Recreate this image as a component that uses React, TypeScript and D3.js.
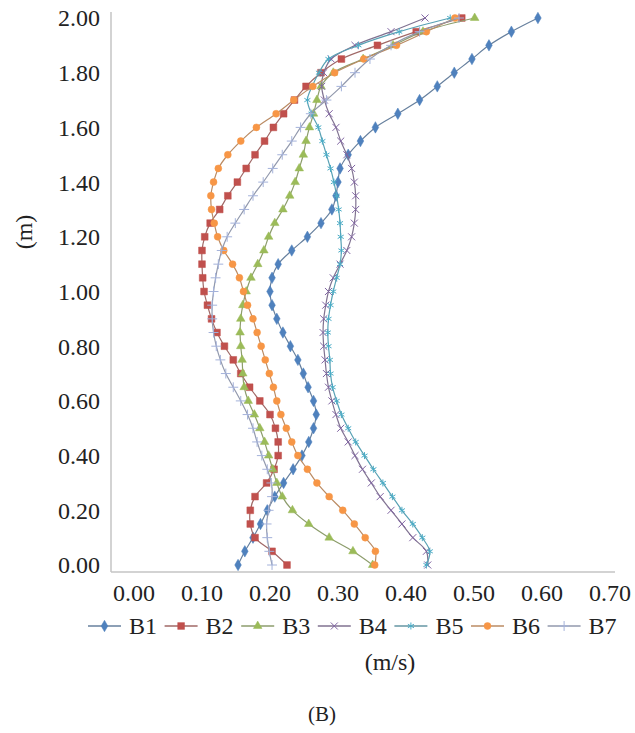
import React, { useEffect, useRef } from 'react';
import * as d3 from 'd3';

// depth (m) of each reading, shared by all series
const heights = [
  0.00, 0.05, 0.10, 0.15, 0.20, 0.25, 0.30, 0.35, 0.40, 0.45,
  0.50, 0.55, 0.60, 0.65, 0.70, 0.75, 0.80, 0.85, 0.90, 0.95,
  1.00, 1.05, 1.10, 1.15, 1.20, 1.25, 1.30, 1.35, 1.40, 1.45,
  1.50, 1.55, 1.60, 1.65, 1.70, 1.75, 1.80, 1.85, 1.90, 1.95, 2.00,
];

// velocity (m/s) per series
const b1 = [
  0.153, 0.163, 0.175, 0.186, 0.196, 0.207, 0.220, 0.234, 0.247, 0.257,
  0.264, 0.268, 0.264, 0.256, 0.249, 0.241, 0.230, 0.219, 0.210, 0.203,
  0.200, 0.203, 0.212, 0.232, 0.255, 0.275, 0.291, 0.297, 0.300, 0.303,
  0.315, 0.333, 0.355, 0.388, 0.420, 0.446, 0.471, 0.497, 0.522, 0.555, 0.594,
];
const b2 = [
  0.225, 0.203, 0.178, 0.171, 0.171, 0.178, 0.195, 0.206, 0.212, 0.212,
  0.208, 0.200, 0.185, 0.170, 0.157, 0.146, 0.133, 0.122, 0.114, 0.108,
  0.103, 0.101, 0.100, 0.100, 0.104, 0.112, 0.126, 0.138, 0.152, 0.165,
  0.178, 0.192, 0.205, 0.220, 0.236, 0.253, 0.275, 0.305, 0.358, 0.415, 0.482,
];
const b3 = [
  0.351, 0.322, 0.287, 0.257, 0.233, 0.218, 0.210, 0.204, 0.198, 0.192,
  0.185, 0.177, 0.168, 0.162, 0.160, 0.159, 0.157, 0.156, 0.157, 0.160,
  0.165, 0.172, 0.182, 0.191, 0.198, 0.207, 0.219, 0.229, 0.237, 0.243,
  0.249, 0.253, 0.258, 0.264, 0.269, 0.275, 0.293, 0.337, 0.381, 0.425, 0.501,
];
const b4 = [
  0.432, 0.430, 0.410, 0.394, 0.378, 0.362, 0.349, 0.336, 0.325, 0.315,
  0.304, 0.297, 0.291, 0.286, 0.283, 0.281, 0.279, 0.278, 0.279, 0.282,
  0.286, 0.293, 0.303, 0.313, 0.320, 0.324, 0.326, 0.326, 0.324, 0.320,
  0.313, 0.304, 0.297, 0.287, 0.280, 0.276, 0.279, 0.290, 0.325, 0.378, 0.428,
];
const b5 = [
  0.430, 0.435, 0.424, 0.410, 0.394, 0.380, 0.366, 0.352, 0.339, 0.326,
  0.315, 0.305, 0.298, 0.292, 0.289, 0.288, 0.286, 0.285, 0.286, 0.289,
  0.293, 0.298, 0.303, 0.305, 0.304, 0.303, 0.301, 0.298, 0.294, 0.289,
  0.283, 0.277, 0.271, 0.261, 0.255, 0.262, 0.272, 0.286, 0.330, 0.390, 0.465,
];
const b6 = [
  0.354, 0.355, 0.340, 0.324, 0.307, 0.287, 0.269, 0.255, 0.241, 0.232,
  0.224, 0.216, 0.210, 0.205, 0.199, 0.193, 0.187, 0.181, 0.175, 0.167,
  0.161, 0.155, 0.145, 0.132, 0.123, 0.118, 0.114, 0.113, 0.117, 0.124,
  0.138, 0.157, 0.180, 0.209, 0.235, 0.263, 0.295, 0.338, 0.386, 0.430, 0.472,
];
const b7 = [
  0.203, 0.199, 0.196, 0.195, 0.198, 0.203, 0.202, 0.196, 0.188, 0.181,
  0.175, 0.167, 0.157, 0.146, 0.135, 0.127, 0.121, 0.117, 0.115, 0.115,
  0.117, 0.120, 0.124, 0.129, 0.137, 0.149, 0.162, 0.175, 0.190, 0.204,
  0.218, 0.232, 0.245, 0.260, 0.283, 0.305, 0.325, 0.347, 0.378, 0.420, 0.478,
];

const seriesNames = ['B1', 'B2', 'B3', 'B4', 'B5', 'B6', 'B7'];
const seriesValues = [b1, b2, b3, b4, b5, b6, b7];
const colors = ['#4f81bd', '#c0504d', '#9bbb59', '#8064a2', '#4bacc6', '#f79646', '#a4b2da'];

const xTicks = [0, 0.1, 0.2, 0.3, 0.4, 0.5, 0.6, 0.7];
const yTicks = [0, 0.2, 0.4, 0.6, 0.8, 1.0, 1.2, 1.4, 1.6, 1.8, 2.0];

const font = '"Liberation Serif", "Times New Roman", serif';

const App = () => {
  const svgRef = useRef<SVGSVGElement>(null);
  const width = 635;
  const height = 733;

  useEffect(() => {
    const svg = d3.select(svgRef.current);
    svg.selectAll('*').remove();

    const x = d3.scaleLinear().domain([0, 0.7]).range([134, 610]);
    const y = d3.scaleLinear().domain([0, 2]).range([565, 18]);

    // axis lines (no tick marks, Excel style)
    svg.append('line')
      .attr('x1', 111).attr('x2', 111)
      .attr('y1', 12).attr('y2', 572)
      .attr('stroke', '#c4c4c4').attr('stroke-width', 1.5);
    svg.append('line')
      .attr('x1', 111).attr('x2', 615)
      .attr('y1', 572).attr('y2', 572)
      .attr('stroke', '#c4c4c4').attr('stroke-width', 1.5);

    svg.append('g')
      .selectAll('text')
      .data(yTicks)
      .enter().append('text')
      .attr('x', 100)
      .attr('y', d => y(d))
      .attr('dy', '0.35em')
      .attr('text-anchor', 'end')
      .style('font-family', font)
      .style('font-size', '24px')
      .attr('fill', '#222')
      .text(d => d.toFixed(2));

    svg.append('g')
      .selectAll('text')
      .data(xTicks)
      .enter().append('text')
      .attr('x', d => x(d))
      .attr('y', 593)
      .attr('dy', '0.35em')
      .attr('text-anchor', 'middle')
      .style('font-family', font)
      .style('font-size', '24px')
      .attr('fill', '#222')
      .text(d => d.toFixed(2));

    const symbols = [
      d3.symbol().type(d3.symbolDiamond).size(38),
      d3.symbol().type(d3.symbolSquare).size(46),
      d3.symbol().type(d3.symbolTriangle).size(32),
      d3.symbol().type(d3.symbolTimes).size(34),
      d3.symbol().type(d3.symbolAsterisk).size(34),
      d3.symbol().type(d3.symbolCircle).size(38),
      d3.symbol().type(d3.symbolPlus).size(34),
    ];
    const strokeSymbol = [false, false, false, true, true, false, true];

    const line = d3.line<number>()
      .x(d => x(d))
      .y((_, i) => y(heights[i]))
      .curve(d3.curveCatmullRom.alpha(0.5));

    seriesValues.forEach((vals, s) => {
      const lineColor = d3.interpolateRgb(colors[s], '#7f7f7f')(s === 4 ? 0.25 : 0.5);
      const g = svg.append('g');
      g.append('path')
        .datum(vals)
        .attr('d', line)
        .attr('fill', 'none')
        .attr('stroke', lineColor)
        .attr('stroke-width', 1.2);
      g.selectAll('path.mark')
        .data(vals)
        .enter().append('path')
        .attr('class', 'mark')
        .attr('d', symbols[s] as any)
        .attr('transform', (d, i) => `translate(${x(d)},${y(heights[i])})`)
        .attr('fill', strokeSymbol[s] ? 'none' : colors[s])
        .attr('stroke', colors[s])
        .attr('stroke-width', strokeSymbol[s] ? 1 : 0.5);
    });

    // legend
    const legend = svg.append('g');
    const legendY = 626;
    seriesNames.forEach((name, s) => {
      const lx = 88 + s * 76.6;
      const lineColor = d3.interpolateRgb(colors[s], '#7f7f7f')(0.5);
      legend.append('line')
        .attr('x1', lx).attr('x2', lx + 33)
        .attr('y1', legendY).attr('y2', legendY)
        .attr('stroke', lineColor).attr('stroke-width', 1.5);
      legend.append('path')
        .attr('d', symbols[s] as any)
        .attr('transform', `translate(${lx + 16.5},${legendY})`)
        .attr('fill', strokeSymbol[s] ? 'none' : colors[s])
        .attr('stroke', colors[s])
        .attr('stroke-width', strokeSymbol[s] ? 1 : 0.5);
      legend.append('text')
        .attr('x', lx + 41)
        .attr('y', legendY)
        .attr('dy', '0.35em')
        .style('font-family', font)
        .style('font-size', '24px')
        .attr('fill', '#222')
        .text(name);
    });

    svg.append('text')
      .attr('x', 390).attr('y', 662)
      .attr('dy', '0.35em')
      .attr('text-anchor', 'middle')
      .style('font-family', font)
      .style('font-size', '24px')
      .attr('fill', '#222')
      .text('(m/s)');

    svg.append('text')
      .attr('transform', 'translate(24,232) rotate(-90)')
      .attr('dy', '0.35em')
      .attr('text-anchor', 'middle')
      .style('font-family', font)
      .style('font-size', '24px')
      .attr('fill', '#222')
      .text('(m)');

    svg.append('text')
      .attr('x', 322).attr('y', 714)
      .attr('dy', '0.35em')
      .attr('text-anchor', 'middle')
      .style('font-family', font)
      .style('font-size', '21px')
      .attr('fill', '#222')
      .text('(B)');
  }, []);

  return (
    <svg
      ref={svgRef}
      width={width}
      height={height}
      style={{ position: 'absolute', left: 0, top: 0, background: '#fff' }}
    />
  );
};

export default App;
